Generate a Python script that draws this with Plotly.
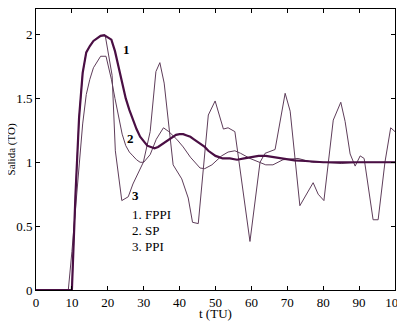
import plotly.graph_objects as go

# FPPI (curve 1)
t1 = [0, 10, 11, 12, 13, 14, 15, 16, 17, 18, 19, 20, 21, 22, 23, 24, 25, 26, 27, 28, 29, 30,
      31, 32, 33, 34, 35, 36, 37, 38, 39, 40, 41, 42, 43, 44, 45, 46, 47, 48, 49, 50, 51, 52,
      54, 56, 58, 60, 62, 64, 66, 68, 70, 72, 75, 80, 85, 90, 95, 100]
y1 = [0, 0, 0.75, 1.35, 1.7, 1.86, 1.91, 1.95, 1.97, 1.99, 1.995, 1.98, 1.96, 1.87, 1.74, 1.63,
      1.5, 1.41, 1.33, 1.26, 1.2, 1.16, 1.13, 1.12, 1.11, 1.12, 1.14, 1.16, 1.18, 1.2, 1.215,
      1.22, 1.22, 1.21, 1.2, 1.18, 1.16, 1.14, 1.12, 1.09, 1.07, 1.05, 1.04, 1.03, 1.03, 1.02,
      1.03, 1.04, 1.05, 1.05, 1.04, 1.03, 1.02, 1.015, 1.01, 1.0, 1.0, 1.0, 1.0, 1.0]

# SP (curve 2)
t2 = [0, 9, 10, 11, 12, 13, 14, 15, 16, 17, 18, 19.5, 21, 22, 23, 24, 25, 26, 27, 28, 29, 30,
      31.8, 33.5, 35.5, 37, 39.2, 41, 43, 45.7, 47, 49, 51.7, 53.5, 55.4, 57, 59.6, 62, 64, 66,
      68.8, 73, 77, 80, 85, 90, 100]
y2 = [0, 0, 0.3, 0.65, 1.0, 1.3, 1.53, 1.65, 1.74, 1.79, 1.83, 1.83, 1.65, 1.5, 1.35, 1.22,
      1.13, 1.08, 1.05, 1.02, 1.0, 1.0, 1.06, 1.18, 1.27, 1.24, 1.18, 1.12, 1.04, 0.955, 0.95,
      0.98, 1.05, 1.08, 1.09, 1.07, 1.03, 1.0, 0.98, 0.98, 1.02, 1.03, 1.0, 1.0, 0.99, 1.0, 1.0]

# PPI (curve 3)
t3 = [0, 10, 11, 12, 13, 14, 15, 16, 17, 18, 19.3, 21.2, 22.1, 23.9, 25.7, 27, 29.9, 31.8,
      33.4, 34.5, 35.7, 38.2, 40.6, 42.4, 43.6, 45.2, 48, 49.9, 52.2, 53.5, 55.4, 59.6, 62.4,
      63.8, 66.6, 69.4, 70.8, 73.5, 77.2, 78.6, 80.2, 82.8, 84.9, 86.1, 87.5, 88.9, 90.3, 91.4,
      93.9, 95.3, 97.2, 98.8, 100]
y3 = [0, 0, 0.75, 1.35, 1.7, 1.86, 1.91, 1.95, 1.97, 1.99, 1.99, 1.68, 1.09, 0.7, 0.73, 0.83,
      1.0, 1.24, 1.71, 1.78, 1.62, 0.98, 0.87, 0.72, 0.53, 0.52, 1.37, 1.48, 1.26, 1.27, 1.24,
      0.38, 1.0, 1.07, 1.10, 1.54, 1.40, 0.66, 0.84, 0.75, 0.70, 1.33, 1.47, 1.32, 1.065, 0.97,
      1.05, 1.03, 0.55, 0.55, 1.0, 1.27, 1.24]

x_ticks = [0, 10, 20, 30, 40, 50, 60, 70, 80, 90, 100]
y_ticks = [0, 0.5, 1, 1.5, 2]
legend_lines = ["1. FPPI", "2. SP", "3. PPI"]

thin_col = "#5e3d5a"
thick_col = "#4a0f44"
font = "Times New Roman, Liberation Serif, DejaVu Serif, serif"

fig = go.Figure()
fig.add_trace(go.Scatter(x=t2, y=y2, mode="lines", line=dict(color=thin_col, width=1)))
fig.add_trace(go.Scatter(x=t3, y=y3, mode="lines", line=dict(color=thin_col, width=1)))
fig.add_trace(go.Scatter(x=t1, y=y1, mode="lines", line=dict(color=thick_col, width=2.2)))

for txt, xx, yy in [("1", 25.3, 1.88), ("2", 26.2, 1.19), ("3", 27.8, 0.74)]:
    fig.add_annotation(x=xx, y=yy, text="<b>" + txt + "</b>", showarrow=False,
                       font=dict(family=font, size=13, color="black"))

for i, txt in enumerate(legend_lines):
    fig.add_annotation(x=26.3, y=0.59 - i * 0.125, text=txt, showarrow=False, xanchor="left",
                       font=dict(family=font, size=13, color="black"))

fig.add_annotation(xref="paper", yref="paper", x=0.5, y=-0.082, yanchor="middle",
                   text="t (TU)", showarrow=False,
                   font=dict(family=font, size=13, color="black"))
fig.add_annotation(xref="paper", yref="paper", x=-0.067, y=0.5, xanchor="center",
                   text="Salida (TO)", textangle=-90, showarrow=False,
                   font=dict(family=font, size=11, color="black"))

axis_common = dict(showline=True, linecolor="black", linewidth=1, mirror="ticks",
                   ticks="inside", ticklen=4, tickcolor="black", showgrid=False,
                   zeroline=False, automargin=False,
                   tickfont=dict(family=font, size=13, color="black"))

# page body has an 8px margin, so the figure is sized/offset to compensate
fig.update_layout(
    width=397, height=316,
    margin=dict(l=28, r=10, t=1, b=34),
    paper_bgcolor="white", plot_bgcolor="white",
    showlegend=False,
    font=dict(family=font),
    xaxis=dict(range=[0, 100], tickvals=x_ticks, **axis_common),
    yaxis=dict(range=[0, 2.2], tickvals=y_ticks, **axis_common),
)

fig.write_html("out.html")
